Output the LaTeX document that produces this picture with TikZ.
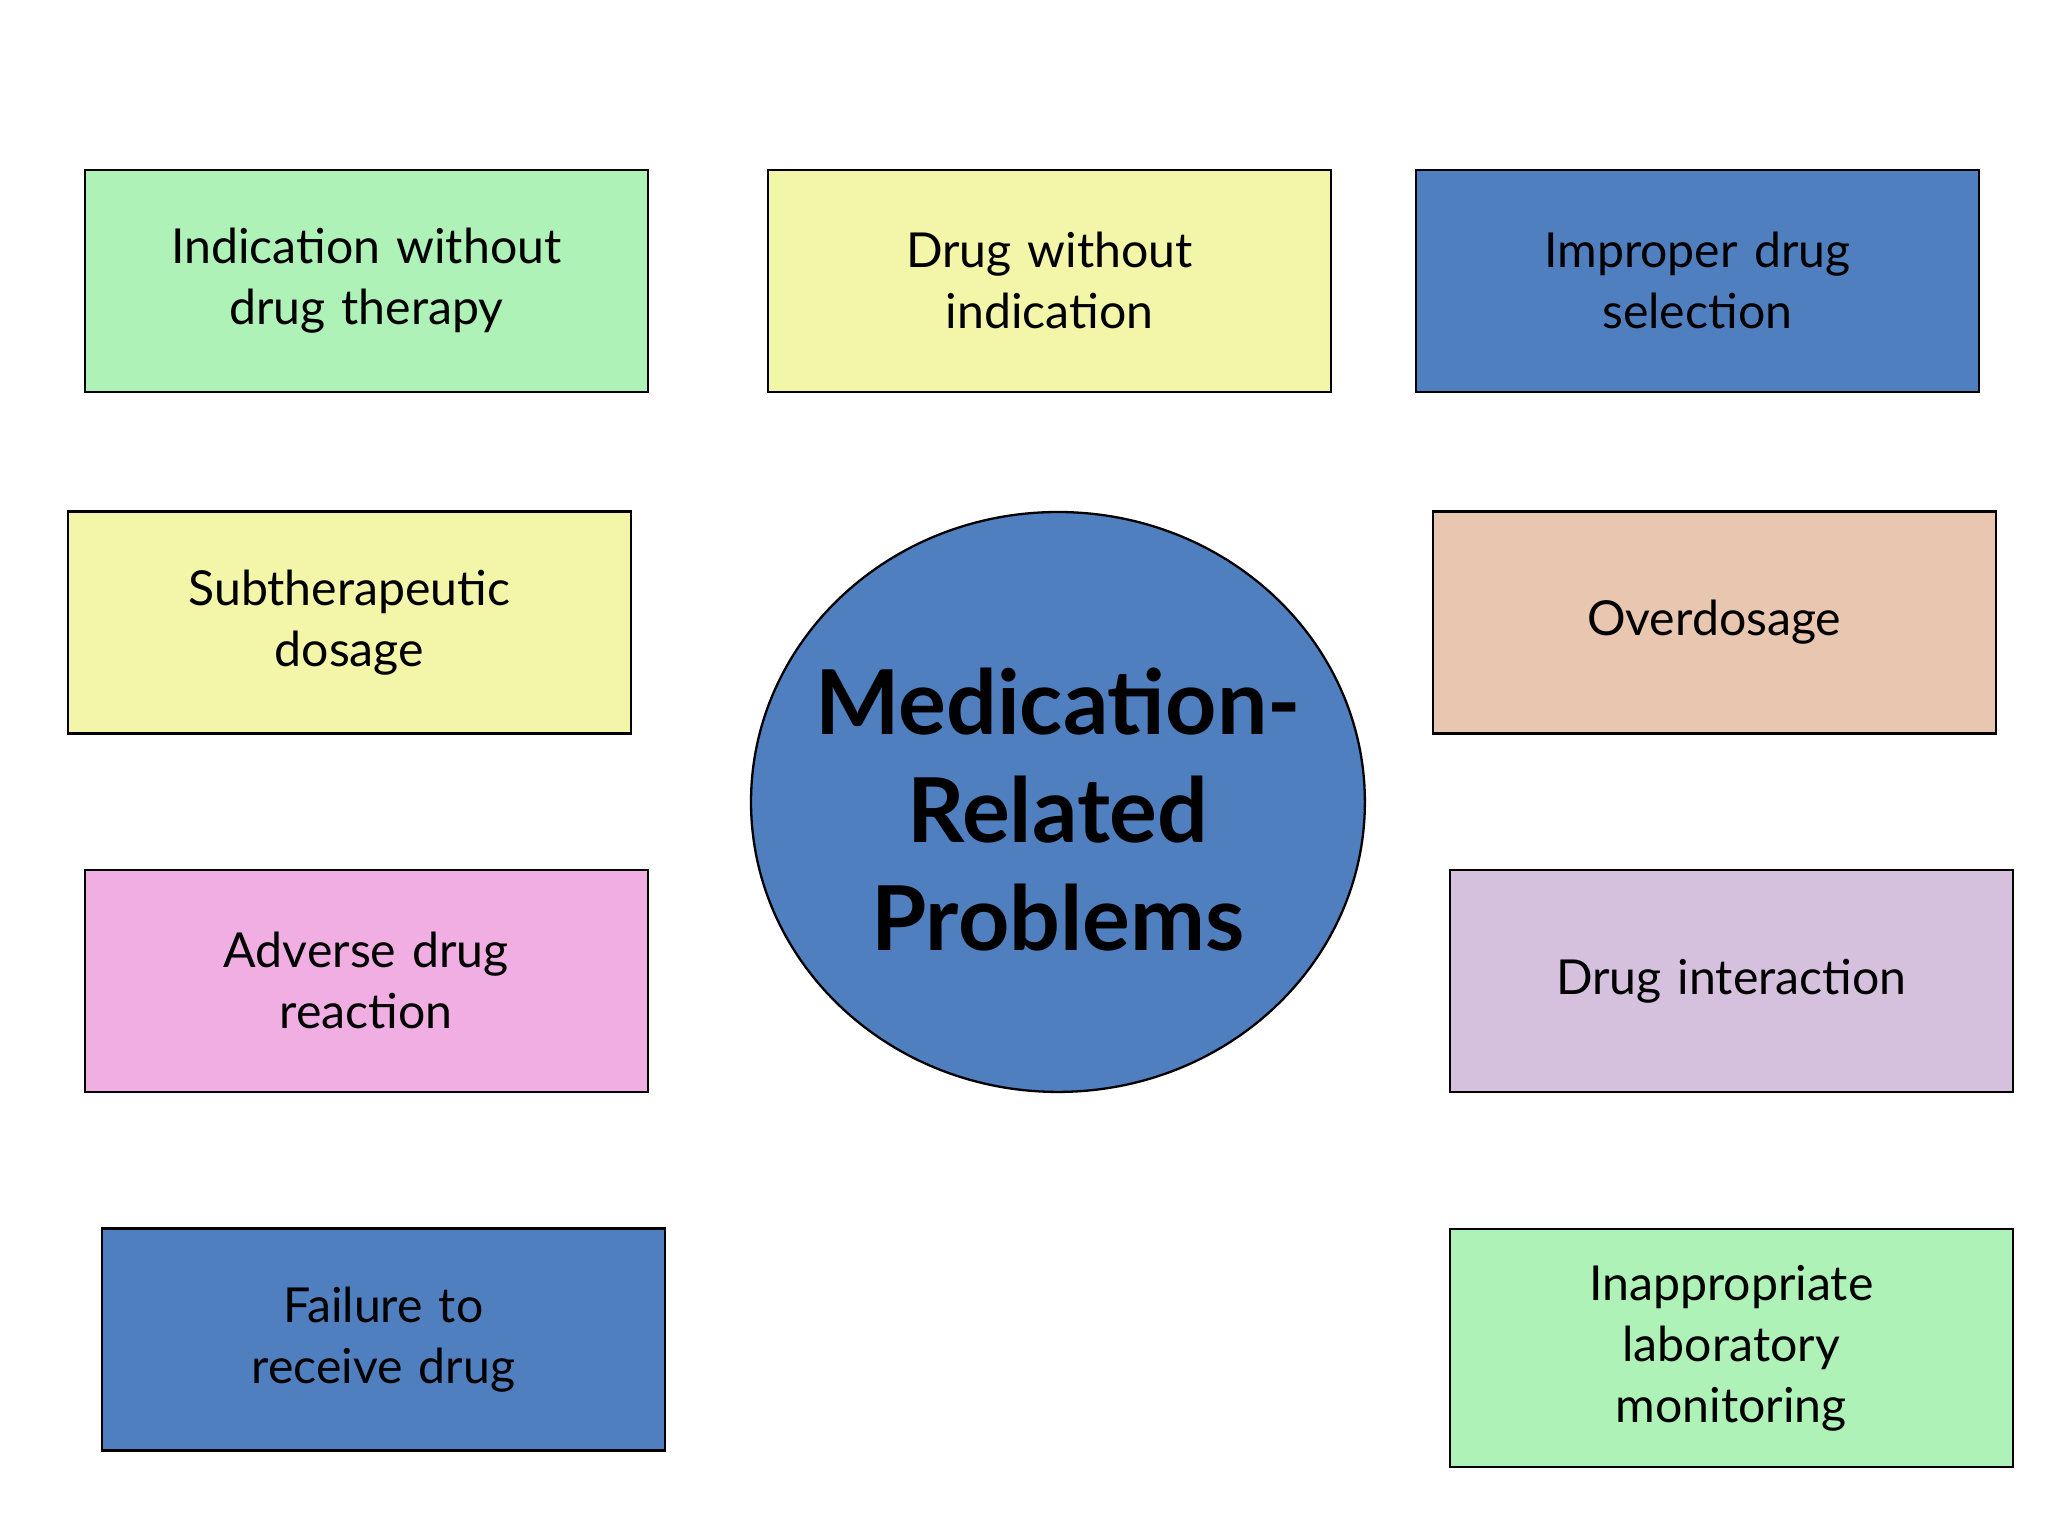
\documentclass[tikz,border=0pt]{standalone}
\usepackage{fontspec}
\setmainfont{Lato}
\definecolor{cgreen}{HTML}{AEF2B8}
\definecolor{cyellow}{HTML}{F3F5A8}
\definecolor{cblue}{HTML}{4F7FBE}
\definecolor{cpeach}{HTML}{E9C6B0}
\definecolor{cpink}{HTML}{F0AEE3}
\definecolor{clilac}{HTML}{D5C0DD}
\begin{document}
\begin{tikzpicture}[x=0.1mm,y=-0.1mm,
  box/.style={draw=black,line width=0.5pt,minimum width=43.1mm,minimum height=17mm,align=center,
    font=\fontsize{10.5}{13.3}\selectfont,text width=40mm,inner sep=0pt}]
\useasboundingbox (0,0) rectangle (1568,1176);
\node[box,fill=cgreen] (a) at (280.5,215) {Indication without\\drug therapy};
\node[box,fill=cyellow] (b) at (803.5,215) {Drug without\\indication};
\node[box,fill=cblue] (c) at (1299.5,215) {Improper drug\\selection};
\node[box,fill=cyellow] (d) at (267.5,476.5) {Subtherapeutic\\dosage};
\node[box,fill=cpeach] (e) at (1312.5,476.5) {Overdosage};
\node[box,fill=cpink] (f) at (280.5,751) {Adverse drug\\reaction};
\node[box,fill=clilac] (g) at (1325.5,751) {Drug interaction};
\node[box,fill=cblue] (h) at (293.5,1025.5) {Failure to\\receive drug};
\node[box,fill=cgreen,minimum height=18.2mm] (i) at (1325.5,1032) {Inappropriate\\laboratory\\monitoring};
\draw[fill=cblue,line width=0.5pt] (810,614) ellipse [x radius=235, y radius=222];
\node[align=center,font=\bfseries\fontsize{19.5}{23.5}\selectfont] (m) at (810,620) {Medication-\\Related\\Problems};
\end{tikzpicture}
\end{document}
